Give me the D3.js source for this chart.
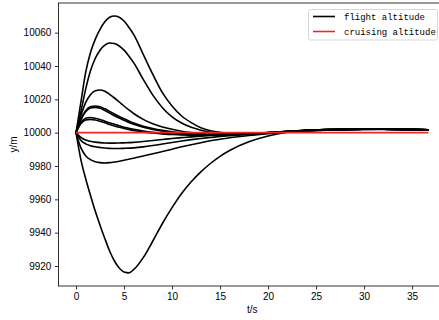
<!DOCTYPE html>
<html>
<head>
<meta charset="utf-8">
<script src="https://cdn.jsdelivr.net/npm/d3@7"></script>
<style>
  html, body { margin: 0; padding: 0; background: #fff; }
  svg { display: block; }
  .tick text { font-family: "Liberation Sans", Arial, sans-serif; font-size: 10px; fill: #000; }
</style>
</head>
<body>
<svg id="chart" width="439" height="320"></svg>
<script>
// ---- data ----
const time = [0, 0.5, 1, 1.5, 2, 2.5, 3, 3.5, 4, 4.5, 5, 5.5, 6, 7, 8, 9, 10, 11, 12, 13, 14, 15, 16, 18, 20, 22, 24, 26, 28, 30, 32, 34, 36.7];

const altA = [10000, 10018, 10036, 10048, 10056, 10062, 10066.5, 10069.3, 10070, 10069.2, 10067, 10063.3, 10059, 10047, 10035, 10024, 10016, 10010, 10006, 10003, 10001.2, 10000.2, 9999.6, 9999.4, 10000, 10000.8, 10001.4, 10001.8, 10002, 10002.1, 10002.1, 10002, 10001.7];
const altB = [10000, 10012.5, 10026, 10037, 10044.5, 10049.5, 10052.5, 10053.8, 10053.5, 10052, 10049.5, 10046, 10042, 10032, 10022.5, 10015, 10009.5, 10005.8, 10003.2, 10001.5, 10000.3, 9999.6, 9999.2, 9999.2, 9999.9, 10000.7, 10001.4, 10001.8, 10002, 10002.1, 10002.1, 10002, 10001.7];
const altC = [10000, 10010, 10018, 10022.8, 10025.2, 10025.6, 10024.8, 10023, 10020.8, 10018.4, 10016, 10013.7, 10011.5, 10008, 10005.3, 10003.4, 10002, 10000.9, 10000.1, 9999.5, 9999.1, 9998.9, 9998.9, 9999.3, 10000, 10000.8, 10001.4, 10001.8, 10002, 10002.1, 10002.1, 10002, 10001.7];
const altD1 = [10000, 10008, 10013.2, 10015.5, 10016, 10015.5, 10014.3, 10012.8, 10011.2, 10009.7, 10008.3, 10007, 10005.8, 10003.9, 10002.5, 10001.4, 10000.5, 9999.8, 9999.3, 9999, 9998.8, 9998.7, 9998.8, 9999.2, 9999.9, 10000.7, 10001.4, 10001.8, 10002, 10002.1, 10002.1, 10002, 10001.7];
const altD2 = [10000, 10007.5, 10012.5, 10014.8, 10015.2, 10014.6, 10013.3, 10011.8, 10010.2, 10008.8, 10007.4, 10006.1, 10005, 10003.2, 10001.9, 10000.9, 10000.1, 9999.5, 9999.1, 9998.8, 9998.6, 9998.6, 9998.7, 9999.1, 9999.8, 10000.6, 10001.3, 10001.7, 10002, 10002.1, 10002.1, 10002, 10001.7];
const altE1 = [10000, 10006, 10008.6, 10009.1, 10008.7, 10007.9, 10006.9, 10005.9, 10005, 10004.1, 10003.3, 10002.6, 10002, 10001, 10000.2, 9999.6, 9999.2, 9998.9, 9998.7, 9998.6, 9998.6, 9998.6, 9998.8, 9999.2, 9999.9, 10000.6, 10001.3, 10001.7, 10002, 10002.1, 10002.1, 10002, 10001.7];
const altE2 = [10000, 10005.3, 10007.6, 10008, 10007.6, 10006.8, 10005.9, 10004.9, 10004, 10003.2, 10002.5, 10001.9, 10001.3, 10000.4, 9999.8, 9999.3, 9998.9, 9998.7, 9998.5, 9998.5, 9998.5, 9998.6, 9998.7, 9999.2, 9999.9, 10000.6, 10001.3, 10001.7, 10002, 10002.1, 10002.1, 10002, 10001.7];
const altH = [10000, 9997.2, 9995.6, 9994.8, 9994.3, 9994, 9993.8, 9993.7, 9993.7, 9993.8, 9993.9, 9994, 9994.2, 9994.7, 9995.3, 9995.9, 9996.5, 9997, 9997.5, 9997.9, 9998.3, 9998.6, 9998.9, 9999.4, 10000, 10000.7, 10001.3, 10001.7, 10002, 10002.1, 10002.1, 10002, 10001.7];
const altG = [10000, 9995.5, 9993.3, 9992.2, 9991.5, 9991.1, 9990.8, 9990.6, 9990.5, 9990.5, 9990.6, 9990.7, 9990.9, 9991.5, 9992.3, 9993.2, 9994.1, 9995, 9995.8, 9996.5, 9997.1, 9997.7, 9998.2, 9999, 9999.7, 10000.5, 10001.2, 10001.6, 10001.9, 10002, 10002.1, 10002, 10001.7];
const altF = [10000, 9991, 9986.2, 9983.8, 9982.6, 9982, 9981.8, 9982, 9982.4, 9982.9, 9983.5, 9984.1, 9984.7, 9986, 9987.3, 9988.7, 9990.1, 9991.5, 9992.8, 9994, 9995.1, 9996, 9996.9, 9998.3, 9999.4, 10000.3, 10001, 10001.5, 10001.8, 10002, 10002, 10002, 10001.7];
const altZ = [10000, 9984, 9972.5, 9962.5, 9953, 9944.5, 9936.5, 9929, 9923, 9918.8, 9916.4, 9915.9, 9917.8, 9925, 9935, 9945.5, 9955, 9963.5, 9970.5, 9976.5, 9981.5, 9985.8, 9989.3, 9994.5, 9998, 10000.2, 10001.3, 10001.8, 10002, 10002.1, 10002.1, 10002, 10001.7];

const flightSeries = [altA, altB, altC, altD1, altD2, altE1, altE2, altH, altG, altF, altZ];
const cruiseTime = [0, 36.7];
const cruiseAlt = [10000, 10000];

const xTicks = [0, 5, 10, 15, 20, 25, 30, 35];
const yTicks = [9920, 9940, 9960, 9980, 10000, 10020, 10040, 10060];
const legendLabels = ["flight altitude", "cruising altitude"];
const xLabel = "t/s";
const yLabel = "y/m";

// ---- drawing ----
const svg = d3.select("#chart");
const mLeft = 58.4, mRight = 446, mTop = 3, mBottom = 286;

const x = d3.scaleLinear().domain([-1.835, 38.535]).range([mLeft, mRight]);
const y = d3.scaleLinear().domain([9908, 10077.8]).range([mBottom, mTop]);

const plot = svg.append("g");

const line = d3.line()
  .x(d => x(d[0]))
  .y(d => y(d[1]))
  .curve(d3.curveMonotoneX);

plot.selectAll("path.flight")
  .data(flightSeries)
  .join("path")
  .attr("class", "flight")
  .attr("fill", "none")
  .attr("stroke", "#000")
  .attr("stroke-width", 1.6)
  .attr("d", s => line(s.map((v, i) => [time[i], v])));

plot.append("path")
  .attr("fill", "none")
  .attr("stroke", "#ee2a1e")
  .attr("stroke-width", 1.6)
  .attr("d", line(cruiseAlt.map((v, i) => [cruiseTime[i], v])));

// axes
const xAxis = svg.append("g")
  .attr("transform", `translate(0,${mBottom})`)
  .call(d3.axisBottom(x).tickValues(xTicks).tickSize(3.5).tickPadding(3.5).tickFormat(d3.format("d")));
const yAxis = svg.append("g")
  .attr("transform", `translate(${mLeft},0)`)
  .call(d3.axisLeft(y).tickValues(yTicks).tickSize(3.5).tickPadding(3.5).tickFormat(d3.format("d")));
[xAxis, yAxis].forEach(g => {
  g.select(".domain").remove();
  g.selectAll(".tick line").attr("stroke", "#000").attr("stroke-width", 0.8);
});

// spines
svg.append("rect")
  .attr("x", mLeft).attr("y", mTop)
  .attr("width", mRight - mLeft).attr("height", mBottom - mTop)
  .attr("fill", "none").attr("stroke", "#000").attr("stroke-width", 0.8);

// axis labels
svg.append("text")
  .attr("x", (mLeft + mRight) / 2).attr("y", 313)
  .attr("text-anchor", "middle")
  .attr("font-family", "Liberation Sans, Arial, sans-serif")
  .attr("font-size", 10)
  .text(xLabel);
svg.append("text")
  .attr("transform", `translate(17,${(mTop + mBottom) / 2}) rotate(-90)`)
  .attr("text-anchor", "middle")
  .attr("font-family", "Liberation Sans, Arial, sans-serif")
  .attr("font-size", 10)
  .text(yLabel);

// legend
const lg = svg.append("g");
lg.append("rect")
  .attr("x", 308.5).attr("y", 9.5).attr("width", 129).attr("height", 30.5)
  .attr("rx", 2).attr("fill", "#fff").attr("fill-opacity", 0.8)
  .attr("stroke", "#ccc").attr("stroke-width", 0.8);
const legendColors = ["#000", "#ee2a1e"];
legendLabels.forEach((lab, i) => {
  const yy = 16.5 + i * 15;
  lg.append("line")
    .attr("x1", 313).attr("x2", 335).attr("y1", yy).attr("y2", yy)
    .attr("stroke", legendColors[i]).attr("stroke-width", 1.6);
  lg.append("text")
    .attr("x", 344).attr("y", yy + 3.2)
    .attr("font-family", "Liberation Mono, DejaVu Sans Mono, monospace")
    .attr("font-size", 9)
    .text(lab);
});
</script>
</body>
</html>
